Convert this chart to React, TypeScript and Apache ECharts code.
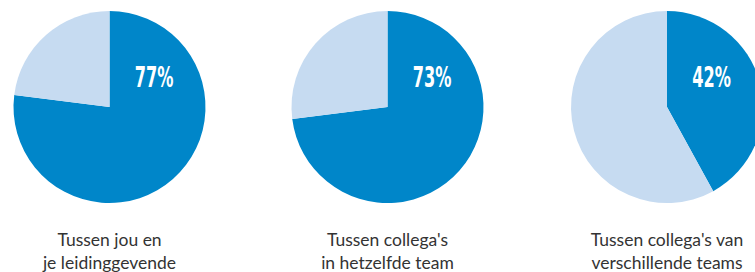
import React, { useEffect, useRef } from "react";
import * as echarts from "echarts";

const categories = [
  "Tussen jou en\nje leidinggevende",
  "Tussen collega's\nin hetzelfde team",
  "Tussen collega's van\nverschillende teams",
];
const yesValues = [77, 73, 42];
const restValues = [23, 27, 58];

const DARK = "#0086C9";
const LIGHT = "#C6DBF1";

const centersX = [109.5, 387.5, 667];
const centerY = 107;
const radius = 96;

export default function App() {
  const ref = useRef<HTMLDivElement>(null);
  useEffect(() => {
    document.body.style.margin = "0";
    const chart = echarts.init(ref.current!, null, { renderer: "svg" });
    const series = categories.map((c, i) => ({
      type: "pie",
      name: c,
      center: [centersX[i], centerY],
      radius: radius,
      startAngle: 90,
      clockwise: true,
      silent: true,
      z: 1,
      label: { show: false },
      labelLine: { show: false },
      emphasis: { disabled: true },
      itemStyle: { borderWidth: 0 },
      data: [
        { name: "ja", value: yesValues[i], itemStyle: { color: DARK } },
        { name: "nee", value: restValues[i], itemStyle: { color: LIGHT } },
      ],
    }));
    const graphic: any[] = [];
    categories.forEach((c, i) => {
      graphic.push({
        type: "text",
        x: centersX[i] + 44.5,
        y: 77,
        z: 100,
        scaleX: 0.62,
        style: {
          text: `${yesValues[i]}%`,
          fill: "#ffffff",
          font: 'bold 29px "DejaVu Sans Condensed", "DejaVu Sans", sans-serif',
          textAlign: "center",
          textVerticalAlign: "middle",
        },
      });
      graphic.push({
        type: "text",
        x: centersX[i],
        y: 228,
        z: 100,
        style: {
          text: c,
          fill: "#333333",
          font: '17.5px Lato, "Open Sans", sans-serif',
          lineHeight: 23,
          textAlign: "center",
          textVerticalAlign: "top",
        },
      });
    });
    chart.setOption({
      animation: false,
      backgroundColor: "#ffffff",
      series,
      graphic: { elements: graphic },
    });
    return () => chart.dispose();
  }, []);
  return <div ref={ref} style={{ width: 755, height: 272 }} />;
}
